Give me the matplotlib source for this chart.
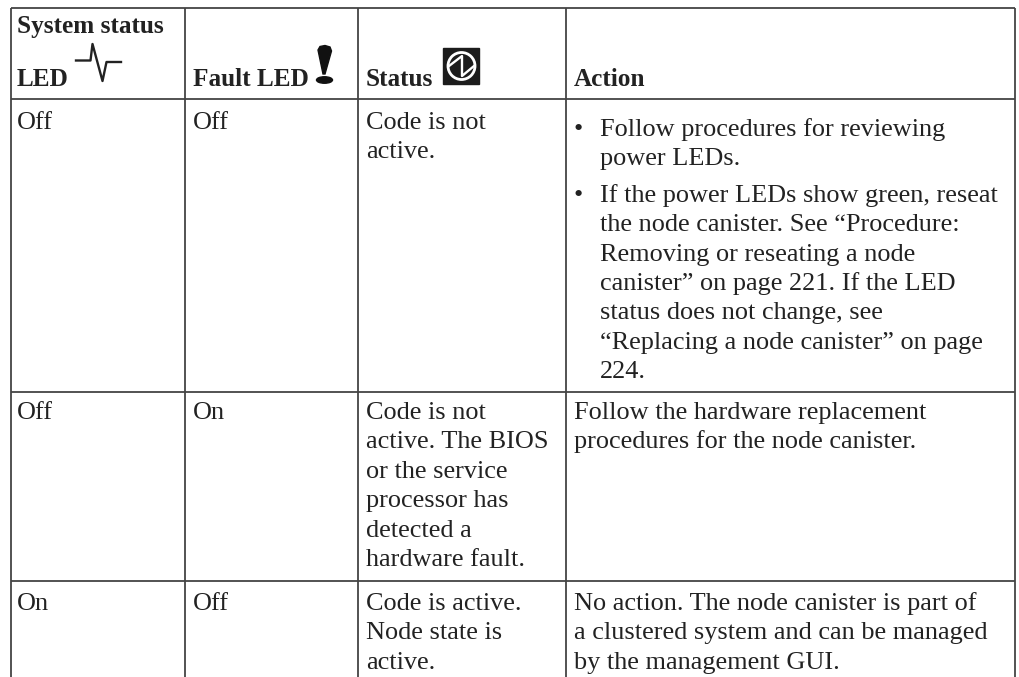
import matplotlib
matplotlib.use("Agg")
from matplotlib import pyplot as plt
from matplotlib.patches import Rectangle, Circle, Polygon, Ellipse

W, H = 1019, 677
INK = "#222222"

headers = ["LED", "Fault LED", "Status", "Action"]
header_top = "System status"
system_led = ["Off", "Off", "On"]
fault_led = ["Off", "On", "Off"]
status = [
    ["Code is not", "active."],
    ["Code is not", "active. The BIOS", "or the service", "processor has", "detected a", "hardware fault."],
    ["Code is active.", "Node state is", "active."],
]
bullets = [
    ["Follow procedures for reviewing", "power LEDs."],
    ["If the power LEDs show green, reseat", "the node canister. See “Procedure:",
     "Removing or reseating a node", "canister” on page 221. If the LED",
     "status does not change, see", "“Replacing a node canister” on page", "224."],
]
action = [
    ["Follow the hardware replacement", "procedures for the node canister."],
    ["No action. The node canister is part of", "a clustered system and can be managed", "by the management GUI."],
]

col_x = [11, 185.5, 358, 566, 1015]
row_y = [8, 99, 392, 581, 677]
text_x = [17, 193, 366, 574]
line_h = 29.4
body_size = 18.9
body = dict(family="Liberation Serif", fontsize=body_size, color=INK, va="baseline")


def put_lines(ax, x, y, lines):
    for i, s in enumerate(lines):
        ax.text(x, y + i * line_h, s, **body)


def main():
    fig = plt.figure(figsize=(W / 100, H / 100), dpi=100)
    ax = fig.add_axes([0, 0, 1, 1])
    ax.set_xlim(0, W)
    ax.set_ylim(H, 0)
    ax.axis("off")

    ax.vlines(col_x, row_y[0], row_y[-1], color="#444444", lw=1.3)
    ax.hlines(row_y[:-1], col_x[0], col_x[-1], color="#444444", lw=1.3)

    # header
    hdr = dict(family="Liberation Serif", fontsize=18.2, weight="bold", color=INK, va="baseline")
    ax.text(text_x[0], 33, header_top, **hdr)
    for x, s in zip(text_x, headers):
        ax.text(x, 86, s, **hdr)

    # pulse icon
    ax.plot([76, 90.5, 92.5, 102.5, 106.5, 121], [60.5, 60.5, 44, 81, 62, 62], color="#222222", lw=1.7)
    # exclamation icon
    ax.add_patch(Polygon([[318, 50], [320, 46.5], [325, 45.5], [330, 47], [331.5, 51], [325, 74], [323, 74]],
                         color="#111111"))
    ax.add_patch(Ellipse((324.5, 80), 16, 6.5, color="#111111"))
    # status icon
    ax.add_patch(Rectangle((443, 48), 36, 36, color="#1c1c1c"))
    ax.add_patch(Circle((461.5, 66), 13.5, fill=False, ec="white", lw=2))
    ax.plot([449, 462, 462, 474], [66, 56, 76, 66], color="white", lw=1.7)

    tops = [129, 419, 610]
    for r, top in enumerate(tops):
        ax.text(text_x[0], top, system_led[r], **body)
        ax.text(text_x[1], top, fault_led[r], **body)
        put_lines(ax, text_x[2], top, status[r])

    # action column, first row is a bullet list
    for y, lines in zip([135.7, 201.7], bullets):
        ax.text(578, y, "•", ha="center", **body)
        put_lines(ax, 600, y, lines)
    put_lines(ax, text_x[3], tops[1], action[0])
    put_lines(ax, text_x[3], tops[2], action[1])

    fig.savefig("out.png", dpi=100)


if __name__ == '__main__':
    main()
